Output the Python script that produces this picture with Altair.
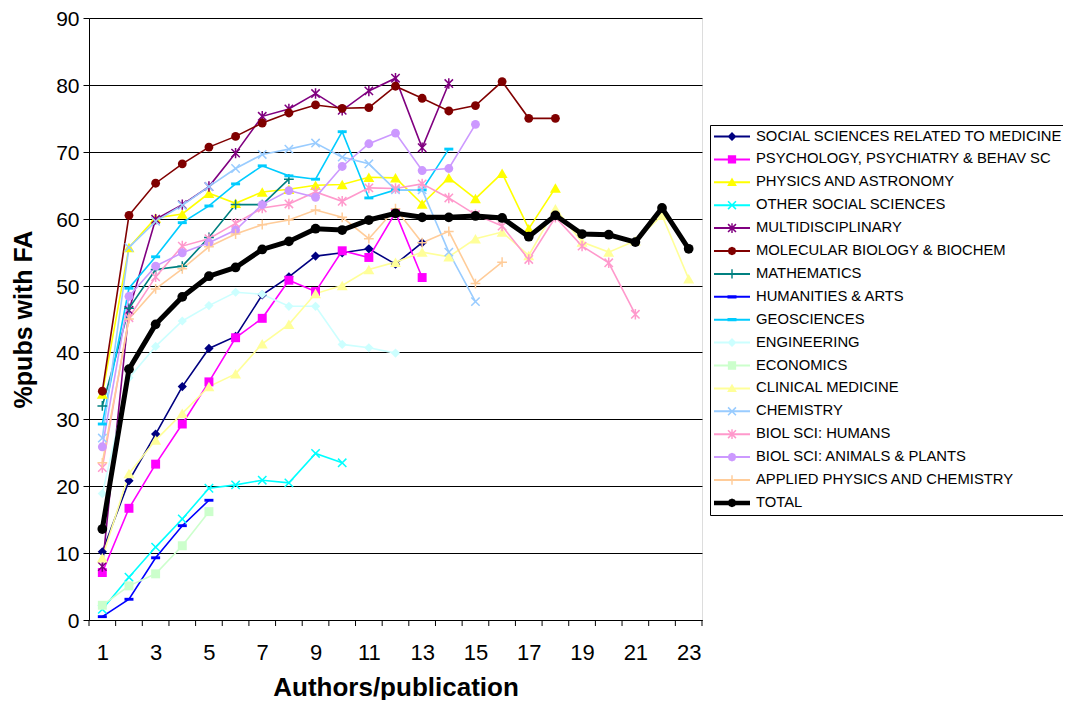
import altair as alt
import pandas as pd

# ---------------- data ----------------
authors = list(range(1, 24))

series_names = [
    "SOCIAL SCIENCES RELATED TO MEDICINE",
    "PSYCHOLOGY, PSYCHIATRY & BEHAV SC",
    "PHYSICS AND ASTRONOMY",
    "OTHER SOCIAL SCIENCES",
    "MULTIDISCIPLINARY",
    "MOLECULAR BIOLOGY & BIOCHEM",
    "MATHEMATICS",
    "HUMANITIES & ARTS",
    "GEOSCIENCES",
    "ENGINEERING",
    "ECONOMICS",
    "CLINICAL MEDICINE",
    "CHEMISTRY",
    "BIOL SCI: HUMANS",
    "BIOL SCI: ANIMALS & PLANTS",
    "APPLIED PHYSICS AND CHEMISTRY",
    "TOTAL",
]

social_sci_medicine = [10.2, 20.8, 27.8, 34.9, 40.6, 42.4, 48.6, 51.3, 54.4, 54.9, 55.5, 53.2, 56.4]
psychology = [7.1, 16.7, 23.3, 29.3, 35.6, 42.2, 45.1, 50.8, 49.1, 55.2, 54.2, 60.9, 51.2]
physics_astronomy = [33.8, 55.7, 60.1, 60.7, 63.8, 62.3, 64.0, 64.4, 65.0, 65.1, 66.2, 66.1,
                     62.2, 66.1, 63.0, 66.8, 58.5, 64.6]
other_social_sci = [1.6, 6.4, 10.9, 15.1, 19.7, 20.2, 20.9, 20.5, 24.9, 23.5]
multidisciplinary = [8.0, 46.3, 59.9, 62.1, 64.8, 69.8, 75.3, 76.4, 78.7, 76.2, 79.1, 81.0, 70.6, 80.2]
molecular_biology = [34.2, 60.5, 65.3, 68.2, 70.7, 72.3, 74.3, 75.8, 77.0, 76.5, 76.6, 79.8,
                     78.0, 76.1, 76.9, 80.5, 75.0, 75.0]
mathematics = [32.0, 46.6, 52.4, 52.9, 57.2, 62.1, 62.1, 65.9]
humanities = [0.5, 3.1, 9.3, 14.1, 17.9]
geosciences = [29.3, 49.6, 54.3, 59.4, 61.9, 65.2, 67.9, 66.4, 65.9, 73.0, 63.1, 64.3, 64.3, 70.4]
engineering = [18.9, 36.2, 40.9, 44.7, 47.0, 49.0, 48.7, 46.9, 46.9, 41.2, 40.7, 39.9]
economics = [2.2, 5.1, 6.9, 11.1, 16.2]
clinical_medicine = [9.3, 21.9, 26.9, 30.9, 34.9, 36.8, 41.3, 44.2, 48.8, 50.0, 52.4, 53.5,
                     55.0, 54.3, 57.0, 58.0, 54.5, 61.5, 56.5, 55.0, 56.7, 60.5, 51.0]
chemistry = [27.2, 55.7, 59.6, 62.0, 64.8, 67.5, 69.6, 70.4, 71.3, 69.2, 68.2, 64.3, 64.3, 55.0, 47.6]
biol_humans = [22.8, 45.2, 51.3, 55.9, 57.0, 59.3, 61.6, 62.2, 64.0, 62.6, 64.6, 64.5, 65.2,
               63.1, 60.6, 58.9, 53.9, 60.2, 55.9, 53.4, 45.7]
biol_animals_plants = [25.9, 48.4, 52.9, 54.9, 56.4, 58.3, 62.1, 64.2, 63.2, 67.8, 71.2, 72.8,
                       67.2, 67.5, 74.1]
applied_phys_chem = [23.5, 45.0, 49.5, 52.5, 55.8, 57.7, 59.1, 59.8, 61.3, 60.2, 57.0, 61.5,
                     56.4, 58.1, 50.3, 53.5]
total = [13.6, 37.5, 44.2, 48.3, 51.4, 52.7, 55.4, 56.6, 58.5, 58.3, 59.8, 60.8, 60.2, 60.2,
         60.4, 60.1, 57.3, 60.5, 57.7, 57.6, 56.5, 61.6, 55.5]

series_values = [social_sci_medicine, psychology, physics_astronomy, other_social_sci,
                 multidisciplinary, molecular_biology, mathematics, humanities, geosciences,
                 engineering, economics, clinical_medicine, chemistry, biol_humans,
                 biol_animals_plants, applied_phys_chem, total]

x_tick_marks = [i + 0.5 for i in range(0, 24)]
x_labels = list(range(1, 24, 2))
y_labels = list(range(0, 91, 10))

# ---------------- styles ----------------
colors = ["#000080", "#FF00FF", "#FFFF00", "#00FFFF", "#800080", "#800000", "#008080",
          "#0000FF", "#00CCFF", "#CCFFFF", "#CCFFCC", "#FFFF99", "#99CCFF", "#FF99CC",
          "#CC99FF", "#FFCC99", "#000000"]
markers = ["diamond", "square", "triangle", "x", "asterisk", "circle", "plus", "dash",
           "dash", "diamond", "square", "triangle", "x", "asterisk", "circle", "plus", "circle"]

plot_marker = {
    "diamond": dict(shape="diamond", filled=True, size=85),
    "square": dict(shape="square", filled=True, size=80),
    "triangle": dict(shape="triangle-up", filled=True, size=120),
    "x": dict(shape="M-1,-1L1,1M-1,1L1,-1", filled=False, size=70, strokeWidth=1.5),
    "asterisk": dict(shape="M-1,-1L1,1M-1,1L1,-1M0,-1.25V1.25", filled=False, size=70, strokeWidth=1.5),
    "circle": dict(shape="circle", filled=True, size=78),
    "plus": dict(shape="M-1,0H1M0,-1V1", filled=False, size=95, strokeWidth=1.5),
    "dash": dict(shape="M-1,-0.32H1V0.32H-1Z", filled=True, size=81),
}

LINE = "M-1,-0.055H1V0.055H-1Z"
THICK = "M-1,-0.125H1V0.125H-1Z"
legend_marker = {
    "diamond": "M0,-0.25L0.25,0L0,0.25L-0.25,0Z",
    "square": "M-0.23,-0.23H0.23V0.23H-0.23Z",
    "triangle": "M0,-0.26L0.27,0.2H-0.27Z",
    "x": "M-0.25,-0.19L-0.19,-0.25L0.25,0.19L0.19,0.25ZM0.19,-0.25L0.25,-0.19L-0.19,0.25L-0.25,0.19Z",
    "asterisk": "M-0.25,-0.19L-0.19,-0.25L0.25,0.19L0.19,0.25ZM0.19,-0.25L0.25,-0.19L-0.19,0.25L-0.25,0.19ZM-0.04,-0.27H0.04V0.27H-0.04Z",
    "circle": "M0.24,0L0.17,0.17L0,0.24L-0.17,0.17L-0.24,0L-0.17,-0.17L0,-0.24L0.17,-0.17Z",
    "plus": "M-0.26,-0.04H0.26V0.04H-0.26ZM-0.04,-0.26H0.04V0.26H-0.04Z",
    "dash": "M-0.25,-0.09H0.25V0.09H-0.25Z",
}
legend_shapes = [(THICK if name == "TOTAL" else LINE) + legend_marker[m]
                 for name, m in zip(series_names, markers)]

FONT = "Liberation Sans"

# ---------------- table ----------------
rows = []
for name, vals in zip(series_names, series_values):
    for n, v in zip(authors, vals):
        rows.append({"series": name, "n": n, "value": v})
df = pd.DataFrame(rows)
ticks_df = pd.DataFrame({"n": x_tick_marks})

x_enc = alt.X(
    "n:Q",
    scale=alt.Scale(domain=[0.5, 23.5], nice=False, zero=False),
    axis=alt.Axis(
        values=x_labels, ticks=False, grid=False, format="d",
        domainColor="black", domainWidth=1,
        labelFontSize=22, labelColor="black", labelFont=FONT, labelPadding=22,
        labelFlush=False, labelOverlap=False,
        title="Authors/publication", titleFontSize=26, titleFontWeight="bold",
        titleFont=FONT, titleColor="black", titleX=306.5, titleY=75,
        titleBaseline="alphabetic",
    ),
)
y_enc = alt.Y(
    "value:Q",
    scale=alt.Scale(domain=[0, 90], nice=False, zero=True),
    axis=alt.Axis(
        values=y_labels, grid=True, gridColor="black", gridWidth=1, gridOpacity=1,
        domainColor="black", domainWidth=1, tickColor="black", tickSize=6, tickWidth=1,
        labelFontSize=21, labelColor="black", labelFont=FONT, labelPadding=4,
        labelOffset=1.5,
        title="%pubs with FA", titleFontSize=25, titleFontWeight="bold",
        titleFont=FONT, titleColor="black", titleX=-58, titleY=301,
        titleBaseline="alphabetic",
    ),
)

base = alt.Chart(df)

line_layers = []
point_layers = []
for name, m, col in zip(series_names, markers, colors):
    sub = base.transform_filter(alt.datum.series == name)
    if name == "TOTAL":
        continue
    line_layers.append(
        sub.mark_line(strokeWidth=1.6, opacity=1, color=col).encode(x=x_enc, y=y_enc)
    )
    point_layers.append(
        sub.mark_point(opacity=1, color=col, **plot_marker[m]).encode(x=x_enc, y=y_enc)
    )

total_sub = base.transform_filter(alt.datum.series == "TOTAL")
total_line = total_sub.mark_line(strokeWidth=5, opacity=1, color="#000000").encode(x=x_enc, y=y_enc)
total_points = total_sub.mark_point(
    opacity=1, shape="circle", filled=True, size=95, color="#000000"
).encode(x=x_enc, y=y_enc)

tick_rules = alt.Chart(ticks_df).mark_rule(color="black", strokeWidth=1).encode(
    x=x_enc, y=alt.value(602), y2=alt.value(608)
)

legend = alt.Legend(
    title=None, orient="none", legendX=621, legendY=107,
    symbolSize=1296, symbolStrokeWidth=0, symbolOpacity=1,
    clipHeight=15, rowPadding=6.9, padding=4, labelOffset=6,
    labelFontSize=14.8, labelFont=FONT, labelColor="black", labelLimit=600,
    strokeColor="black", fillColor="white",
)
legend_layer = base.mark_point(filled=True, opacity=0).encode(
    x=x_enc, y=y_enc,
    fill=alt.Fill("series:N", scale=alt.Scale(domain=series_names, range=colors), legend=legend),
    shape=alt.Shape("series:N", scale=alt.Scale(domain=series_names, range=legend_shapes), legend=legend),
)

chart = alt.layer(
    *line_layers, *point_layers, total_line, total_points, tick_rules, legend_layer
).properties(
    width=613, height=602,
    autosize=alt.AutoSizeParams(type="none"),
    padding={"left": 81, "top": 10, "right": 361, "bottom": 80},
    background="white",
).configure_view(
    stroke="#808080", strokeWidth=1
).configure(font=FONT)

chart.save("out.html", embed_options={"renderer": "svg", "actions": False})
